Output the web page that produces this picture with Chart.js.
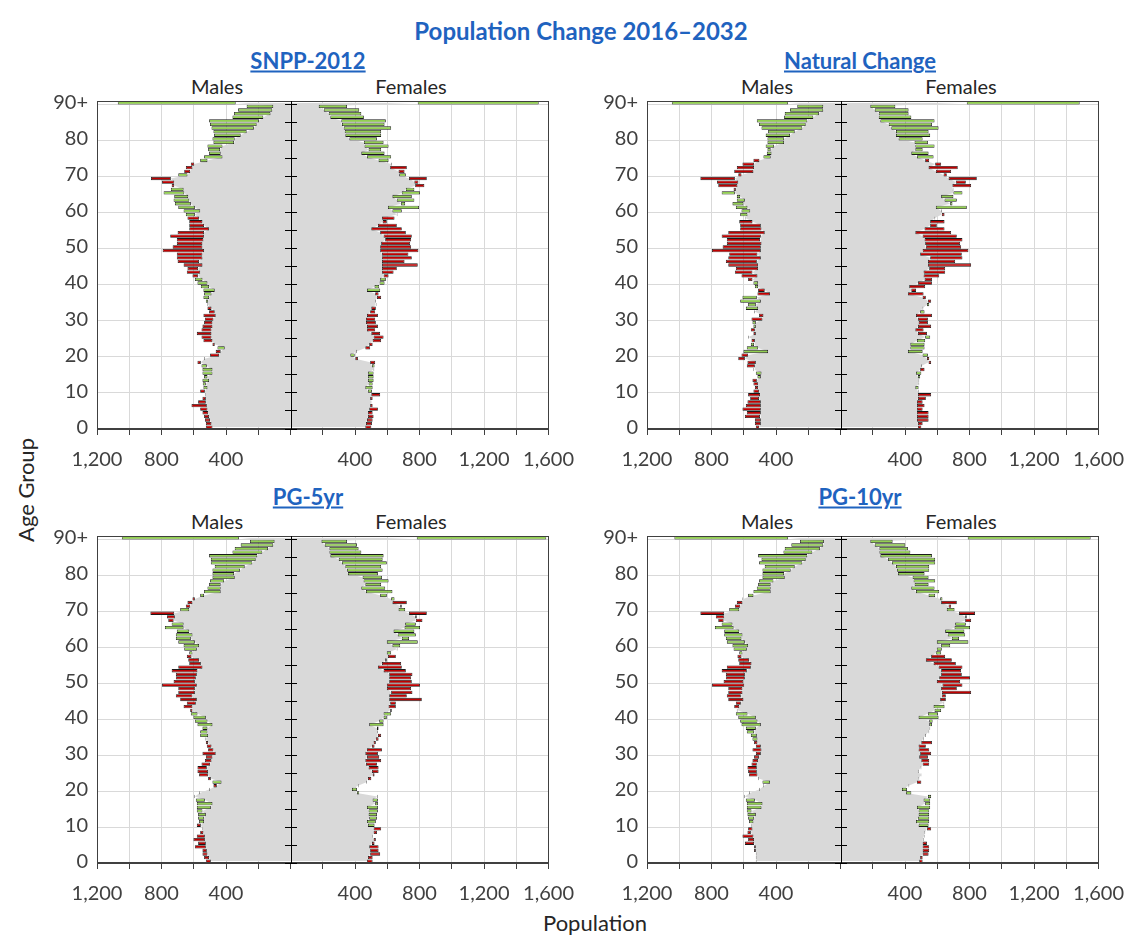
<!DOCTYPE html>
<html>
<head>
<meta charset="utf-8">
<script src="https://cdn.jsdelivr.net/npm/chart.js@4.4.1/dist/chart.umd.min.js"></script>
<style>
  body { margin: 0; width: 1129px; height: 936px; background: #fff; position: relative; overflow: hidden; font-family: Lato, 'Open Sans', sans-serif; color: #404040; }
  .t { position: absolute; white-space: nowrap; transform: translate(-50%, -50%); }
  .main { font-size: 24px; font-weight: bold; color: #1f63bf; }
  .panel { font-size: 22px; font-weight: bold; color: #1f63bf; text-decoration: underline; }
  .sex { font-size: 20px; color: #262626; }
  .axt { font-size: 22px; color: #262626; }
  canvas { position: absolute; }
</style>
</head>
<body>
<div class="t main" style="left:581px;top:30px">Population Change 2016–2032</div>

<div class="t panel" style="left:308px;top:60px">SNPP-2012</div>
<div class="t panel" style="left:860px;top:60px">Natural Change</div>
<div class="t panel" style="left:308px;top:496px">PG-5yr</div>
<div class="t panel" style="left:860px;top:496px">PG-10yr</div>

<div class="t sex" style="left:217px;top:86px">Males</div>
<div class="t sex" style="left:411px;top:86px">Females</div>
<div class="t sex" style="left:767px;top:86px">Males</div>
<div class="t sex" style="left:961px;top:86px">Females</div>
<div class="t sex" style="left:217px;top:521px">Males</div>
<div class="t sex" style="left:411px;top:521px">Females</div>
<div class="t sex" style="left:767px;top:521px">Males</div>
<div class="t sex" style="left:961px;top:521px">Females</div>

<div class="t axt" style="left:25px;top:490px;transform:translate(-50%,-50%) rotate(-90deg)">Age Group</div>
<div class="t axt" style="left:595px;top:922px">Population</div>

<canvas id="snpp" width="557" height="394" style="left:30px;top:80px"></canvas>
<canvas id="natural" width="557" height="394" style="left:580px;top:80px"></canvas>
<canvas id="pg5" width="557" height="393" style="left:30px;top:515px"></canvas>
<canvas id="pg10" width="557" height="393" style="left:580px;top:515px"></canvas>

<script>
// age groups, youngest first
const ages = [
  '0', '1', '2', '3', '4', '5', '6', '7', '8', '9',
  '10', '11', '12', '13', '14', '15', '16', '17', '18', '19',
  '20', '21', '22', '23', '24', '25', '26', '27', '28', '29',
  '30', '31', '32', '33', '34', '35', '36', '37', '38', '39',
  '40', '41', '42', '43', '44', '45', '46', '47', '48', '49',
  '50', '51', '52', '53', '54', '55', '56', '57', '58', '59',
  '60', '61', '62', '63', '64', '65', '66', '67', '68', '69',
  '70', '71', '72', '73', '74', '75', '76', '77', '78', '79',
  '80', '81', '82', '83', '84', '85', '86', '87', '88', '89',
  '90+'
]

// SNPP-2012
const snppMale2016 = [
  525, 525, 531, 536, 546, 560, 614, 573, 546, 531,
  560, 515, 525, 505, 515, 484, 484, 519, 577, 536,
  499, 464, 408, 484, 540, 552, 581, 552, 546, 536,
  531, 540, 505, 515, 515, 511, 505, 490, 470, 505,
  515, 546, 608, 643, 639, 663, 700, 705, 705, 793,
  731, 705, 705, 746, 700, 628, 628, 628, 639, 593,
  560, 593, 618, 628, 634, 659, 663, 737, 797, 865,
  639, 659, 649, 618, 515, 422, 433, 437, 422, 350,
  346, 309, 272, 227, 210, 196, 169, 124, 113, 107,
  340
]
const snppMale2032 = [
  484, 490, 499, 505, 511, 515, 519, 525, 525, 527,
  531, 540, 544, 546, 536, 546, 546, 552, 556, 532,
  443, 433, 453, 470, 484, 490, 490, 490, 484, 484,
  478, 464, 470, 490, 511, 525, 540, 536, 540, 556,
  577, 593, 573, 560, 573, 546, 567, 546, 546, 536,
  546, 546, 540, 536, 536, 505, 536, 546, 567, 649,
  663, 696, 717, 725, 721, 787, 742, 721, 721, 742,
  696, 622, 608, 597, 560, 536, 505, 511, 515, 478,
  484, 474, 478, 490, 499, 505, 360, 350, 325, 272,
  1071
]
const snppFemale2016 = [
  501, 505, 509, 515, 509, 542, 509, 501, 509, 556,
  480, 464, 484, 480, 480, 480, 515, 505, 525, 418,
  371, 412, 494, 509, 562, 577, 556, 525, 542, 529,
  525, 542, 525, 529, 529, 529, 562, 546, 474, 521,
  552, 556, 608, 639, 659, 789, 707, 752, 731, 793,
  748, 742, 748, 752, 715, 690, 659, 597, 645, 659,
  632, 604, 686, 659, 632, 690, 715, 830, 793, 845,
  674, 707, 721, 624, 546, 474, 439, 484, 459, 455,
  365, 340, 336, 330, 319, 315, 247, 237, 206, 175,
  789
]
const snppFemale2032 = [
  464, 468, 474, 480, 480, 488, 494, 497, 494, 501,
  505, 509, 509, 515, 515, 515, 519, 521, 494, 402,
  398, 408, 464, 488, 509, 515, 501, 474, 474, 468,
  468, 474, 494, 501, 533, 525, 536, 525, 556, 550,
  583, 591, 577, 567, 567, 567, 567, 567, 567, 556,
  556, 562, 587, 577, 556, 501, 542, 571, 567, 663,
  690, 797, 711, 768, 752, 803, 768, 773, 768, 735,
  715, 670, 618, 628, 608, 624, 583, 562, 608, 577,
  536, 562, 562, 624, 583, 591, 455, 439, 426, 350,
  1539
]

// Natural Change
const naturalMale2016 = [
  525, 531, 531, 593, 581, 608, 587, 577, 560, 573,
  540, 531, 540, 546, 494, 490, 536, 581, 577, 634,
  614, 449, 511, 536, 552, 573, 540, 556, 525, 525,
  552, 505, 531, 511, 525, 494, 519, 515, 511, 511,
  511, 573, 614, 655, 649, 696, 711, 696, 690, 797,
  731, 705, 705, 737, 696, 622, 622, 628, 587, 577,
  560, 577, 602, 593, 622, 655, 663, 758, 766, 869,
  634, 659, 643, 608, 540, 433, 428, 433, 412, 350,
  350, 313, 284, 237, 216, 206, 169, 134, 107, 107,
  325
]
const naturalMale2032 = [
  505, 494, 494, 499, 494, 494, 494, 494, 505, 499,
  505, 511, 511, 519, 515, 525, 540, 531, 525, 593,
  573, 602, 581, 556, 531, 569, 525, 531, 540, 546,
  484, 478, 535, 587, 573, 622, 608, 437, 470, 531,
  540, 546, 515, 546, 511, 511, 519, 494, 515, 494,
  494, 490, 499, 494, 470, 490, 494, 546, 590, 622,
  614, 649, 670, 643, 643, 737, 649, 639, 634, 655,
  614, 540, 536, 536, 503, 478, 457, 453, 464, 453,
  453, 464, 449, 490, 505, 519, 350, 346, 313, 268,
  1046
]
const naturalFemale2016 = [
  501, 509, 546, 546, 546, 509, 521, 509, 529, 562,
  480, 464, 484, 484, 480, 468, 521, 501, 562, 550,
  509, 418, 433, 433, 474, 525, 536, 515, 562, 542,
  542, 567, 494, 509, 536, 562, 529, 515, 468, 525,
  567, 567, 612, 649, 649, 810, 711, 756, 752, 793,
  748, 742, 756, 721, 686, 645, 597, 645, 587, 645,
  624, 591, 680, 645, 624, 700, 700, 810, 777, 845,
  659, 686, 727, 624, 550, 474, 439, 464, 464, 459,
  360, 344, 344, 315, 299, 247, 237, 237, 212, 185,
  783
]
const naturalFemale2032 = [
  480, 480, 474, 474, 474, 474, 474, 474, 480, 480,
  484, 484, 488, 488, 494, 501, 494, 505, 546, 536,
  542, 509, 521, 521, 525, 556, 480, 464, 480, 484,
  480, 468, 521, 513, 550, 542, 509, 418, 439, 426,
  480, 521, 515, 515, 550, 542, 542, 556, 494, 509,
  529, 525, 521, 509, 464, 521, 556, 556, 583, 628,
  628, 783, 694, 721, 700, 756, 696, 694, 715, 670,
  639, 591, 546, 587, 525, 577, 546, 509, 583, 542,
  509, 556, 546, 608, 567, 583, 439, 422, 422, 340,
  1483
]

// PG-5yr
const pg5Male2016 = [
  525, 536, 546, 546, 593, 573, 602, 581, 560, 546,
  581, 536, 536, 525, 546, 494, 484, 531, 597, 567,
  505, 478, 428, 511, 567, 577, 577, 552, 531, 525,
  546, 511, 519, 525, 531, 511, 515, 515, 484, 515,
  525, 577, 622, 663, 643, 684, 711, 696, 696, 797,
  725, 711, 711, 737, 696, 628, 634, 643, 608, 581,
  567, 593, 618, 608, 628, 663, 663, 758, 766, 869,
  628, 649, 639, 608, 536, 433, 433, 433, 412, 346,
  350, 313, 284, 237, 216, 206, 175, 140, 107, 99,
  319
]
const pg5Male2032 = [
  494, 505, 515, 519, 525, 525, 531, 531, 540, 542,
  556, 567, 573, 573, 581, 581, 581, 587, 593, 563,
  501, 457, 484, 494, 511, 511, 519, 499, 490, 484,
  464, 478, 490, 511, 527, 560, 560, 546, 577, 593,
  602, 618, 608, 608, 587, 581, 608, 593, 593, 581,
  593, 587, 581, 577, 546, 556, 567, 614, 628, 659,
  663, 696, 711, 711, 705, 779, 737, 725, 717, 721,
  684, 622, 608, 593, 560, 536, 515, 505, 499, 484,
  484, 484, 470, 494, 494, 505, 360, 346, 309, 251,
  1046
]
const pg5Female2016 = [
  509, 509, 556, 546, 546, 521, 529, 509, 536, 562,
  480, 474, 488, 484, 484, 474, 525, 509, 542, 412,
  381, 422, 474, 501, 521, 546, 546, 536, 562, 550,
  542, 567, 521, 529, 546, 562, 542, 536, 488, 550,
  577, 577, 628, 653, 653, 814, 721, 756, 748, 803,
  752, 748, 756, 715, 690, 686, 597, 653, 597, 659,
  632, 597, 690, 665, 639, 707, 711, 818, 783, 845,
  670, 690, 721, 624, 556, 468, 439, 464, 453, 447,
  356, 350, 340, 319, 299, 247, 241, 241, 212, 192,
  783
]
const pg5Female2032 = [
  474, 480, 494, 494, 488, 505, 515, 505, 515, 515,
  521, 529, 536, 536, 542, 542, 542, 542, 538, 426,
  412, 418, 470, 480, 509, 505, 484, 468, 464, 474,
  464, 474, 505, 515, 529, 542, 538, 546, 577, 577,
  597, 624, 618, 608, 618, 612, 612, 624, 597, 597,
  612, 612, 612, 577, 542, 567, 587, 604, 624, 663,
  680, 789, 735, 777, 768, 803, 777, 777, 773, 735,
  711, 680, 632, 645, 597, 632, 587, 562, 608, 567,
  542, 571, 562, 597, 571, 577, 439, 422, 412, 350,
  1586
]

// PG-10yr
const pg10Male2016 = [
  525, 525, 525, 536, 536, 593, 573, 608, 577, 573,
  556, 540, 536, 525, 552, 490, 484, 531, 597, 567,
  505, 478, 437, 511, 567, 573, 577, 552, 546, 536,
  525, 546, 525, 536, 515, 519, 536, 525, 494, 515,
  525, 577, 639, 659, 649, 696, 705, 696, 696, 797,
  725, 711, 711, 737, 705, 628, 634, 639, 608, 581,
  573, 593, 614, 608, 628, 663, 670, 758, 773, 869,
  628, 655, 643, 608, 540, 433, 433, 433, 416, 346,
  350, 309, 284, 237, 216, 206, 175, 128, 107, 103,
  325
]
const pg10Male2032 = [
  521, 521, 521, 525, 525, 536, 536, 540, 556, 546,
  552, 567, 573, 577, 581, 581, 581, 587, 593, 563,
  501, 474, 484, 507, 515, 519, 519, 519, 511, 505,
  494, 490, 494, 515, 546, 556, 581, 587, 614, 622,
  634, 649, 643, 628, 618, 602, 618, 608, 608, 597,
  602, 593, 593, 581, 556, 552, 567, 614, 628, 663,
  670, 705, 711, 721, 721, 779, 737, 725, 721, 721,
  690, 622, 608, 604, 573, 540, 519, 511, 505, 484,
  484, 484, 470, 505, 490, 511, 354, 346, 305, 251,
  1030
]
const pg10Female2016 = [
  509, 509, 546, 550, 550, 536, 515, 521, 525, 562,
  484, 468, 480, 484, 484, 474, 525, 515, 542, 406,
  381, 426, 501, 488, 501, 484, 501, 550, 550, 542,
  562, 550, 529, 567, 515, 529, 550, 556, 550, 550,
  484, 542, 583, 577, 639, 653, 653, 810, 721, 756,
  742, 803, 752, 748, 756, 715, 690, 649, 591, 597,
  624, 597, 690, 665, 649, 707, 711, 810, 783, 834,
  659, 686, 721, 618, 546, 468, 439, 459, 453, 447,
  356, 350, 344, 319, 295, 247, 241, 241, 212, 185,
  789
]
const pg10Female2032 = [
  488, 494, 509, 509, 509, 509, 511, 517, 521, 536,
  546, 550, 550, 550, 550, 556, 556, 556, 562, 439,
  412, 422, 474, 484, 497, 480, 497, 509, 501, 488,
  494, 484, 484, 501, 511, 525, 546, 552, 567, 571,
  608, 604, 624, 645, 643, 618, 628, 628, 624, 632,
  597, 612, 624, 624, 608, 577, 529, 562, 624, 628,
  680, 793, 735, 773, 768, 803, 777, 773, 773, 735,
  707, 670, 624, 632, 587, 612, 583, 546, 587, 546,
  521, 550, 550, 587, 587, 567, 433, 418, 402, 323,
  1551
]

const GREEN = '#92d050'
const RED = '#c00000'
const GRAY = '#d9d9d9'
const AXIS = '#404040'

Chart.defaults.font.family = 'Lato, "Open Sans", sans-serif'
Chart.defaults.font.size = 20
Chart.defaults.color = AXIS

// box round the plot and the centre line at zero
const frame = {
  id: 'frame',
  afterDatasetsDraw(chart) {
    const { ctx, chartArea: a, scales } = chart
    const cx = Math.round(scales.x.getPixelForValue(0)) + 0.5
    ctx.save()
    ctx.strokeStyle = AXIS
    ctx.lineWidth = 1
    ctx.strokeRect(Math.round(a.left) + 0.5, Math.round(a.top) + 0.5, Math.round(a.width) - 1, Math.round(a.height) - 1)
    ctx.strokeStyle = '#000'
    ctx.beginPath()
    ctx.moveTo(cx, a.top)
    ctx.lineTo(cx, a.bottom)
    ctx.stroke()
    ctx.restore()
  }
}

function makePyramid(id, m16, m32, f16, f32) {
  // males run to the left, so their values are negated
  const maleBars = m16.map((v, i) => [-v, -m32[i]])
  const femaleBars = f16.map((v, i) => [v, f32[i]])
  const maleBase = m16.map((v, i) => -Math.min(v, m32[i]))
  const femaleBase = f16.map((v, i) => Math.min(v, f32[i]))
  const maleColors = m16.map((v, i) => (m32[i] >= v ? GREEN : RED))
  const femaleColors = f16.map((v, i) => (f32[i] >= v ? GREEN : RED))

  const barStyle = {
    borderColor: '#1a1a1a',
    borderWidth: 0.8,
    borderSkipped: false,
    inflateAmount: 0,
    grouped: false,
    barPercentage: 0.92,
    categoryPercentage: 1,
    xAxisID: 'x',
    yAxisID: 'y',
    order: 1
  }
  const areaStyle = {
    type: 'line',
    indexAxis: 'y',
    fill: 'origin',
    backgroundColor: GRAY,
    borderWidth: 0,
    pointRadius: 0,
    tension: 0,
    xAxisID: 'x',
    yAxisID: 'y',
    order: 2
  }

  new Chart(document.getElementById(id), {
    type: 'bar',
    data: {
      labels: ages,
      datasets: [
        { ...areaStyle, data: maleBase },
        { ...areaStyle, data: femaleBase },
        { ...barStyle, data: maleBars, backgroundColor: maleColors },
        { ...barStyle, data: femaleBars, backgroundColor: femaleColors }
      ]
    },
    options: {
      indexAxis: 'y',
      responsive: false,
      animation: false,
      layout: { padding: { left: 0, right: 30, top: 16, bottom: 0 } },
      plugins: { legend: { display: false }, tooltip: { enabled: false } },
      scales: {
        x: {
          type: 'linear',
          min: -1200,
          max: 1600,
          ticks: {
            stepSize: 200,
            autoSkip: false,
            maxRotation: 0,
            padding: 13,
            callback: (v) => (v === 0 || v % 400 !== 0 ? '' : Math.abs(v).toLocaleString('en-US'))
          },
          grid: {
            color: (ctx) => (ctx.tick && ctx.tick.value === 0 ? 'rgba(0,0,0,0)' : GRAY),
            tickColor: AXIS,
            tickLength: 6
          },
          border: { color: AXIS },
          afterFit: (s) => { s.height = 45 }
        },
        y: {
          type: 'category',
          reverse: true,
          offset: true,
          position: 'left',
          grid: {
            offset: true,
            drawTicks: false,
            color: (ctx) => (ctx.index % 10 === 0 && ctx.index > 0 && ctx.index < ages.length ? GRAY : 'rgba(0,0,0,0)')
          },
          border: { color: AXIS },
          ticks: {
            autoSkip: false,
            padding: 9,
            callback: (v, i) => (i % 10 === 0 ? ages[i] : '')
          },
          afterFit: (s) => { s.width = 67 }
        },
        // cross ticks every five years on the centre line
        yc: {
          type: 'category',
          axis: 'y',
          reverse: true,
          offset: true,
          position: { x: 40 },
          grid: {
            z: 1,
            offset: true,
            drawOnChartArea: false,
            tickLength: 12,
            tickWidth: 1,
            tickColor: (ctx) => (ctx.index % 5 === 0 ? '#000' : 'rgba(0,0,0,0)')
          },
          border: { display: false },
          ticks: { display: false },
          afterFit: (s) => { s.width = 0 }
        }
      }
    },
    plugins: [frame]
  })
}

makePyramid('snpp', snppMale2016, snppMale2032, snppFemale2016, snppFemale2032)
makePyramid('natural', naturalMale2016, naturalMale2032, naturalFemale2016, naturalFemale2032)
makePyramid('pg5', pg5Male2016, pg5Male2032, pg5Female2016, pg5Female2032)
makePyramid('pg10', pg10Male2016, pg10Male2032, pg10Female2016, pg10Female2032)
</script>
</body>
</html>
